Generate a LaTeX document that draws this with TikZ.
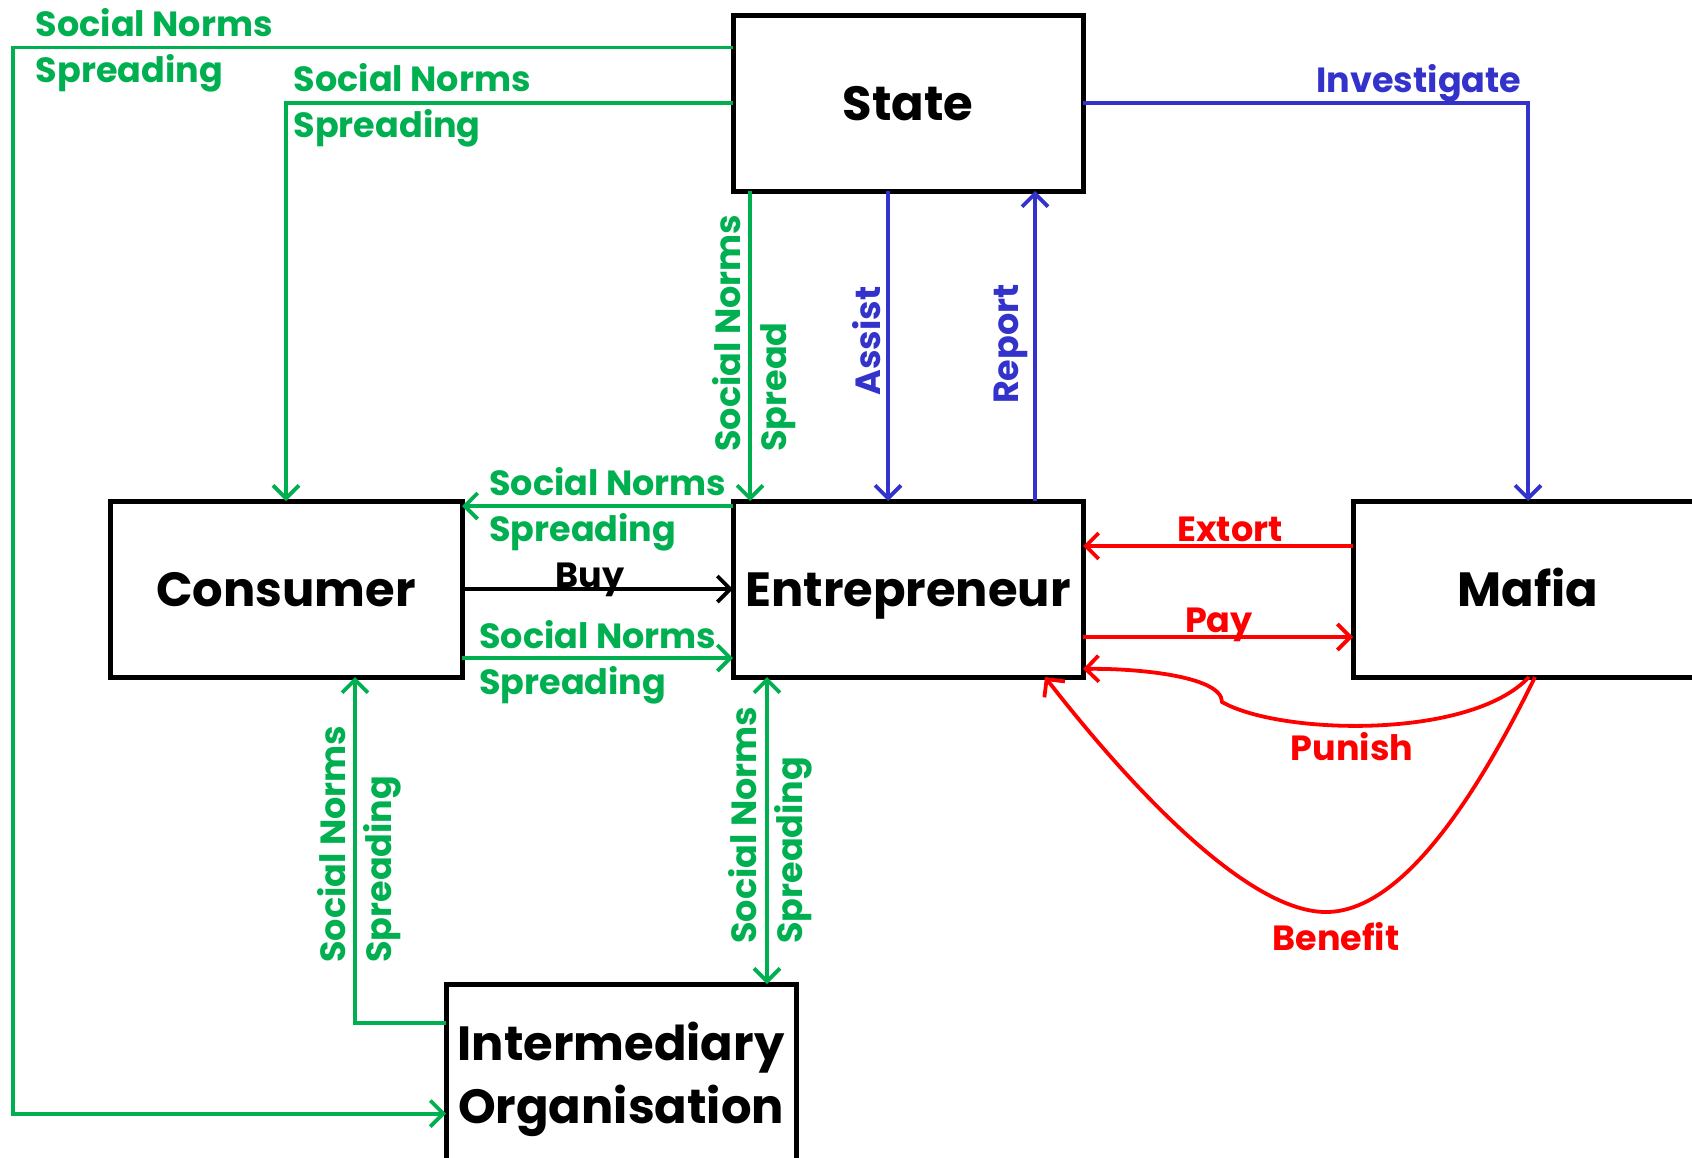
\documentclass[tikz,border=0pt]{standalone}
\usepackage{fontspec}
\setmainfont{Poppins}
\usetikzlibrary{arrows.meta,calc}
\definecolor{ggreen}{RGB}{0,176,80}
\definecolor{bblue}{RGB}{51,51,204}
\definecolor{rred}{RGB}{255,0,0}
\begin{document}
\begin{tikzpicture}[x=1pt,y=-1pt,
  >={Straight Barb[length=13pt,width=26pt]},
  box/.style={draw=black, line width=5pt, minimum width=350pt, minimum height=176pt,
    inner sep=0pt, outer sep=0pt, font=\fontsize{48}{63}\selectfont\bfseries, align=center,
    text height=34pt, text depth=0pt},
  lbl/.style={inner sep=0pt, font=\fontsize{35}{46}\selectfont\bfseries, align=left},
  conn/.style={line width=3.8pt},
  gconn/.style={conn, draw=ggreen},
  bconn/.style={conn, draw=bblue},
  rconn/.style={conn, draw=rred},
  kconn/.style={conn, draw=black},
  glbl/.style={lbl, text=ggreen},
  blbl/.style={lbl, text=bblue},
  rlbl/.style={lbl, text=rred},
]
\useasboundingbox (0,0) rectangle (1692,1157);
\clip (0,0) rectangle (1692,1157);

% boxes
\node[box] (state) at (908,103) {State};
\node[box, minimum width=352pt] (cons) at (286,589) {Consumer};
\node[box] (entre) at (908,589) {Entrepreneur};
\node[box] (mafia) at (1528,589) {Mafia};
\node[box, text height=102pt, text depth=0pt] (inter) at (621,1072) {Intermediary\\Organisation};

% green connectors
\coordinate (cornerA) at (13,1113.6);
\draw[gconn,->] ([yshift=-32.5pt]state.north west) -| (cornerA) -- ([yshift=-41.6pt]inter.west);
\draw[gconn,->] (state.west) -| (cons.north);
\draw[gconn,->] ([xshift=17pt]state.south west) -- ([xshift=17pt]entre.north west);
\draw[gconn,->] ([yshift=-5pt]entre.north west) -- ([yshift=-5pt]cons.north east);
\draw[gconn,->] ([yshift=19pt]cons.south east) -- ([yshift=19pt]entre.south west);
\draw[gconn,->] ([yshift=-39pt]inter.north west) -| ([xshift=69pt]cons.south);
\draw[gconn,<->] ([xshift=34pt]entre.south west) -- ([xshift=34pt]entre.south west |- inter.north);

% black
\draw[kconn,->] (cons.east) -- (entre.west);

% blue
\draw[bconn,->] ([xshift=155pt]state.south west) -- ([xshift=155pt]entre.north west);
\draw[bconn,->] ([xshift=302pt]entre.north west) -- ([xshift=302pt]state.south west);
\draw[bconn,->] (state.east) -| (mafia.north);

% red
\draw[rconn,->] ([xshift=1pt]mafia.south) .. controls (1470,740) and (1280,735) .. (1222,702)
  .. controls (1222,675) and (1130,668) .. ([yshift=8pt]entre.south east);
\draw[rconn,->] ([yshift=-45pt]mafia.north west) -- ([yshift=-45pt]entre.north east);
\draw[rconn,->] ([yshift=40pt]entre.south east) -- ([yshift=40pt]mafia.south west);
\draw[rconn,->] ([xshift=7pt]mafia.south) .. controls (1460,830) and (1390,912) .. (1326,912)
  .. controls (1245,912) and (1125,780) .. ([xshift=-38pt]entre.south east);

% labels
\node[glbl, anchor=west] (l1) at (35.6,49.8) {Social Norms\\Spreading};
\node[glbl, anchor=west] (l2) at (293.5,105) {Social Norms\\Spreading};
\node[glbl, anchor=west] (l7) at (489,509) {Social Norms\\Spreading};
\node[glbl, anchor=west] (l9) at (479,662) {Social Norms\\Spreading};
\node[glbl, rotate=90, anchor=west] (l3) at (754,452) {Social Norms\\Spread};
\node[glbl, rotate=90, anchor=west] (l10) at (359,963) {Social Norms\\Spreading};
\node[glbl, rotate=90, anchor=west] (l11) at (770,944) {Social Norms\\Spreading};

\node[blbl, anchor=base east] (linv) at (1521.5,92) {Investigate};
\node[blbl, rotate=90] (lassist) at (866.5,341) {Assist};
\node[blbl, rotate=90] (lreport) at (1011,344) {Report};

\node[lbl, anchor=base] (lbuy) at (590,587) {Buy};
\node[rlbl, anchor=base] (lext) at (1230,541) {Extort};
\node[rlbl, anchor=base] (lpay) at (1219,632) {Pay};
\node[rlbl] (lpun) at (1352,747) {Punish};
\node[rlbl] (lben) at (1336,937) {Benefit};
\end{tikzpicture}
\end{document}
